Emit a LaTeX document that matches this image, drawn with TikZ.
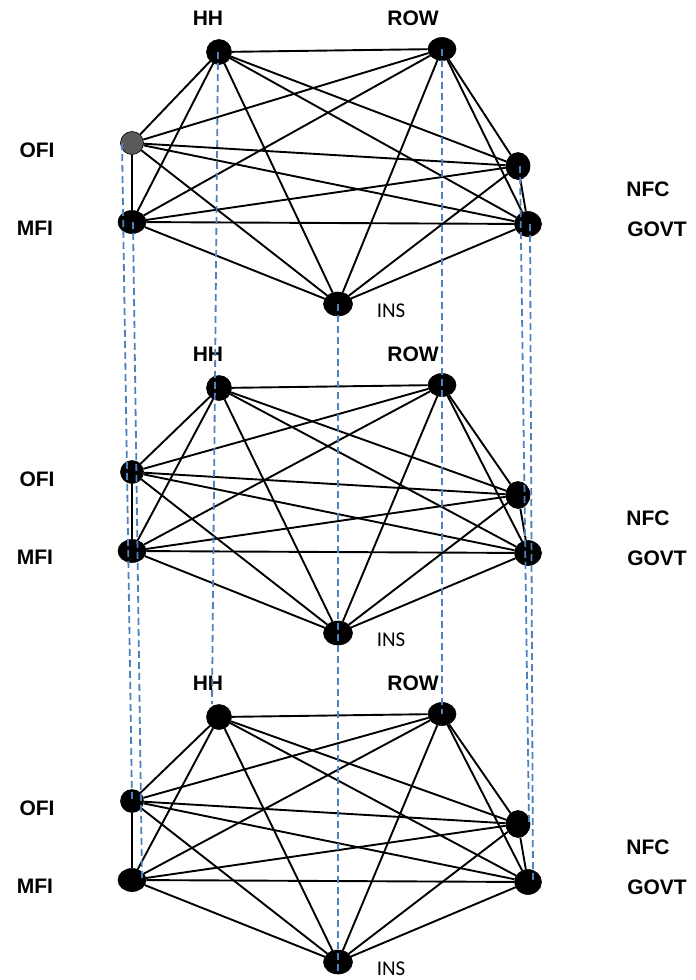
\documentclass[tikz,border=0pt]{standalone}
\usepackage{fontspec}
\setmainfont{Liberation Sans}
\newfontfamily\insfont{Carlito}
\usetikzlibrary{shapes.geometric}
\definecolor{tieblue}{HTML}{4F81BD}
\definecolor{ofigray}{HTML}{5A5A5A}
\begin{document}
\begin{tikzpicture}[x=1pt, y=-1pt, line join=round,
    dot/.style n args={2}{ellipse, draw=black, fill=black, line width=0.6pt, inner sep=0pt, minimum width=#1, minimum height=#2},
    link/.style={line width=1.9pt, black},
    tie/.style={tieblue, line width=1.8pt, dash pattern=on 7pt off 4pt},
    lbl/.style={font=\fontsize{21}{25}\selectfont\bfseries},
    inslbl/.style={font=\insfont\fontsize{21}{25}\selectfont}]
  \useasboundingbox (0,0) rectangle (696,980);
  % --- three layers of the same network ---
  \foreach \l/\dy/\ty/\of in {a/0/0/ofigray, b/329/336/black, c/658/665/black} {
    \node[dot={25pt}{25pt}] (hh\l) at (219,52+\ty) {};
    \node[dot={28pt}{23pt}] (row\l) at (442,49+\ty) {};
    \node[dot={23pt}{23pt}, fill=\of] (ofi\l) at (132,143+\dy) {};
    \node[dot={28pt}{23pt}] (mfi\l) at (132,222+\dy) {};
    \node[dot={24pt}{27pt}] (nfc\l) at (518,166+\dy) {};
    \node[dot={27pt}{25pt}] (govt\l) at (528,224+\dy) {};
    \node[dot={29pt}{24pt}] (ins\l) at (338,304+\dy) {};
    % labels
    \node[lbl] (hhname\l) at (208,18+\ty) {HH};
    \node[lbl] (rowname\l) at (413,18+\ty) {ROW};
    \node[lbl] (ofiname\l) at (37,150+\dy) {OFI};
    \node[lbl] (mfiname\l) at (35,228+\dy) {MFI};
    \node[lbl] (nfcname\l) at (648,189+\dy) {NFC};
    \node[lbl] (govtname\l) at (657,229+\dy) {GOVT};
    \node[inslbl] (insname\l) at (391,311+\dy) {INS};
    % every pair is linked
    \foreach \p/\q in {hh/row, hh/ofi, hh/mfi, hh/nfc, hh/govt, hh/ins,
        row/ofi, row/mfi, row/nfc, row/govt, row/ins,
        ofi/mfi, ofi/nfc, ofi/govt, ofi/ins,
        mfi/nfc, mfi/govt, mfi/ins,
        nfc/govt, nfc/ins, govt/ins}
      \draw[link] (\p\l) -- (\q\l);
  }
  % --- dashed ties between the layers ---
  \draw[tie] ([xshift=-10pt]ofia.center) -- (ofic.center);
  \draw[tie] ([xshift=1pt]mfia.center) -- ([xshift=10pt]mfic.center);
  \draw[tie] ([xshift=-1pt]hha.center) -- ([xshift=-7pt]hhc.north);
  \draw[tie] (rowa.center) -- (rowc.center);
  \draw[tie] (insa.center) -- ([yshift=-9pt]insc.center);
  \draw[tie] ([xshift=2pt]nfca.center) -- ([xshift=11pt]nfcc.center);
  \draw[tie] ([xshift=2pt]govta.center) -- ([xshift=5pt]govtc.center);
\end{tikzpicture}
\end{document}
